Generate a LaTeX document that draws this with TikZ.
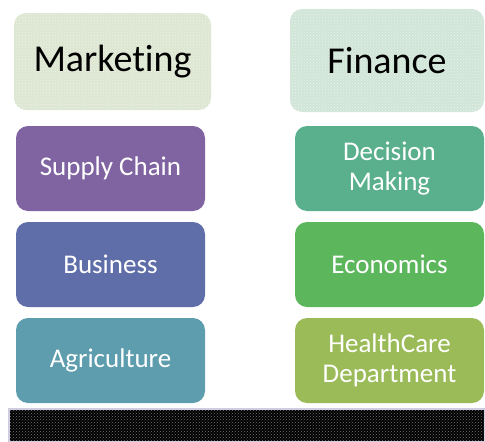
\documentclass[tikz,border=0pt]{standalone}
\usepackage{fontspec}
\setmainfont[Ligatures=NoCommon]{Carlito}
\usetikzlibrary{patterns}
\definecolor{headgreen}{HTML}{DCE6D1}
\definecolor{headmint}{HTML}{D0E5D8}
\definecolor{supplyc}{HTML}{8064A2}
\definecolor{businessc}{HTML}{5F6EA9}
\definecolor{agric}{HTML}{5D9DAD}
\definecolor{decisionc}{HTML}{5AB08D}
\definecolor{econc}{HTML}{5CB65C}
\definecolor{healthc}{HTML}{9BBB59}
\definecolor{barline}{HTML}{CFCBE0}
\begin{document}
\begin{tikzpicture}[x=1pt,y=-1pt,
    headbox/.style={rounded corners=12pt,minimum width=197pt,minimum height=97pt,
        font=\fontsize{38}{40}\selectfont,text=black,
        postaction={pattern=crosshatch dots,pattern color=white,opacity=.55}},
    topicbox/.style={rounded corners=12pt,minimum width=189pt,minimum height=85pt,
        text=white,font=\fontsize{27}{30}\selectfont,align=center}]
    \useasboundingbox (0,0) rectangle (485,442);
    % headers
    \node [headbox,fill=headgreen] (marketing) at (112.5,61.5) {Marketing};
    \node [headbox,fill=headmint,minimum width=194pt,minimum height=103pt] (finance) at (387,60.5) {Finance};
    % left column
    \node [topicbox,fill=supplyc] (supply) at (110.5,168.5) {Supply Chain};
    \node [topicbox,fill=businessc] (business) at (110.5,264.5) {Business};
    \node [topicbox,fill=agric] (agri) at (110.5,360.5) {Agriculture};
    % right column
    \node [topicbox,fill=decisionc] (decision) at (389.5,168.5) {Decision\\Making};
    \node [topicbox,fill=econc] (econ) at (389.5,264.5) {Economics};
    \node [topicbox,fill=healthc] (health) at (389.5,360.5) {HealthCare\\Department};
    % bottom bar
    \draw [barline,line width=1.5pt,fill=black,
        postaction={pattern=crosshatch dots,pattern color=white,opacity=.45}] (9,409) rectangle (485,442);
\end{tikzpicture}
\end{document}
